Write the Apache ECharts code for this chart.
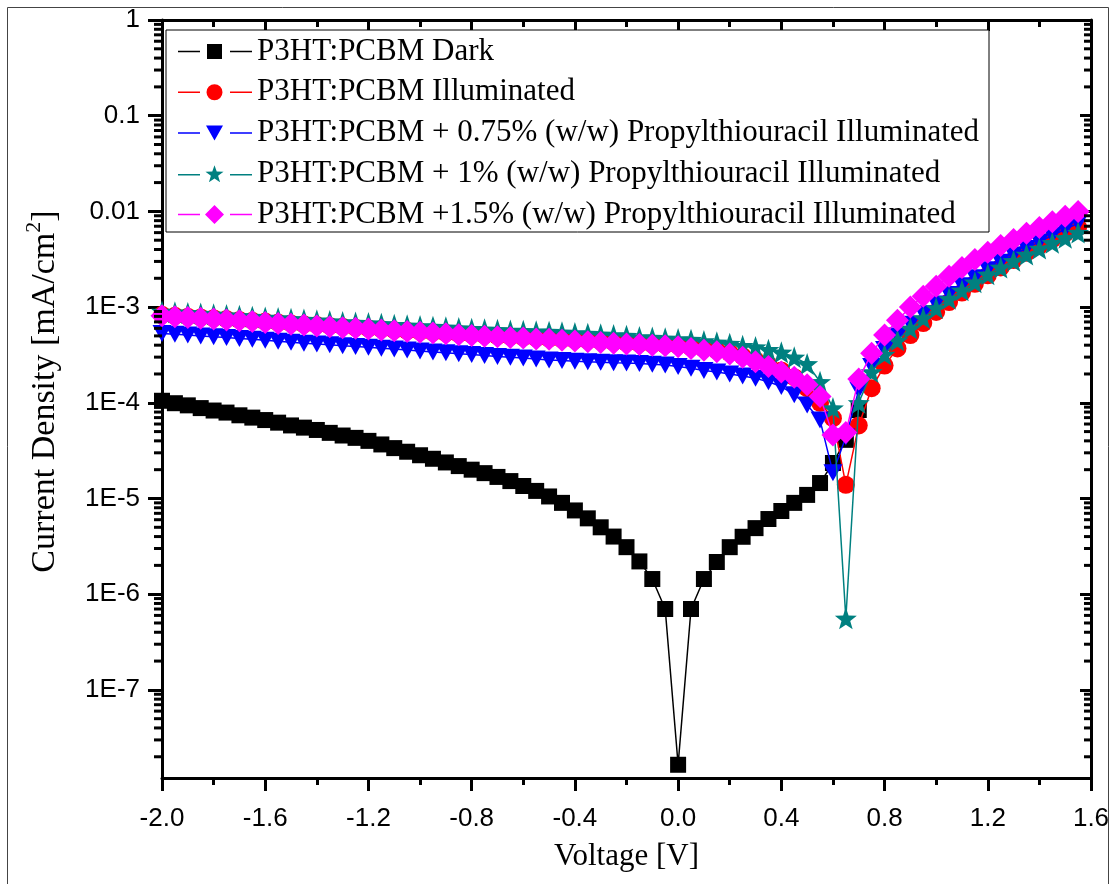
<!DOCTYPE html>
<html>
<head>
<meta charset="utf-8">
<script src="https://cdn.jsdelivr.net/npm/echarts@6/dist/echarts.min.js"></script>
<style>
  html, body { margin: 0; padding: 0; background: #fff; }
  #chart { width: 1117px; height: 884px; }
</style>
</head>
<body>
<div id="chart"></div>
<script>
// Bias voltage grid (V)
const voltage = [-2.0,-1.95,-1.9,-1.85,-1.8,-1.75,-1.7,-1.65,-1.6,-1.55,-1.5,-1.45,-1.4,-1.35,-1.3,-1.25,-1.2,-1.15,-1.1,-1.05,
  -1.0,-0.95,-0.9,-0.85,-0.8,-0.75,-0.7,-0.65,-0.6,-0.55,-0.5,-0.45,-0.4,-0.35,-0.3,-0.25,-0.2,-0.15,-0.1,-0.05,
  0,0.05,0.1,0.15,0.2,0.25,0.3,0.35,0.4,0.45,0.5,0.55,0.6,0.65,0.7,0.75,0.8,0.85,0.9,0.95,
  1.0,1.05,1.1,1.15,1.2,1.25,1.3,1.35,1.4,1.45,1.5,1.55];

// Current density (mA/cm^2), one value per voltage step
const darkJ = [1.05e-4,9.9e-5,9.4e-5,8.8e-5,8.3e-5,7.9e-5,7.4e-5,7.0e-5,6.6e-5,
  6.2e-5,5.8e-5,5.5e-5,5.2e-5,4.85e-5,4.55e-5,4.3e-5,4.0e-5,
  3.67e-5,3.36e-5,3.08e-5,2.83e-5,2.6e-5,2.38e-5,2.18e-5,2.0e-5,
  1.84e-5,1.68e-5,1.52e-5,1.35e-5,1.2e-5,1.05e-5,9.0e-6,7.5e-6,
  6.2e-6,5.0e-6,4.0e-6,3.1e-6,2.2e-6,1.44e-6,7.0e-7,
  1.65e-8,
  7.0e-7,1.44e-6,2.17e-6,3.1e-6,3.98e-6,4.9e-6,6.1e-6,7.4e-6,9.0e-6,1.09e-5,1.45e-5,2.35e-5,4.1e-5,8.4e-5];

const illumJ = [8.3e-4,8.1e-4,7.95e-4,7.8e-4,7.65e-4,7.5e-4,7.35e-4,7.2e-4,7.05e-4,6.9e-4,
  6.75e-4,6.6e-4,6.5e-4,6.35e-4,6.25e-4,6.1e-4,6.0e-4,5.9e-4,5.75e-4,5.65e-4,
  5.55e-4,5.45e-4,5.35e-4,5.25e-4,5.15e-4,5.05e-4,4.98e-4,4.9e-4,4.83e-4,4.75e-4,4.68e-4,
  4.6e-4,4.52e-4,4.45e-4,4.37e-4,4.3e-4,4.22e-4,4.15e-4,4.08e-4,4.02e-4,
  3.95e-4,
  3.8e-4,3.65e-4,3.5e-4,3.32e-4,3.08e-4,2.8e-4,2.5e-4,2.18e-4,1.85e-4,
  1.42e-4,1.0e-4,6.9e-5,1.39e-5,
  5.8e-5,1.42e-4,2.45e-4,3.7e-4,5.1e-4,6.8e-4,8.9e-4,1.13e-3,1.42e-3,1.75e-3,
  2.15e-3,2.6e-3,3.1e-3,3.7e-3,4.35e-3,5.1e-3,5.9e-3,6.8e-3];

const ptu075J = [5.3e-4,5.2e-4,5.1e-4,5.0e-4,4.9e-4,4.8e-4,4.7e-4,4.6e-4,4.5e-4,4.4e-4,
  4.3e-4,4.2e-4,4.12e-4,4.03e-4,3.95e-4,3.87e-4,3.8e-4,3.72e-4,3.64e-4,3.56e-4,
  3.48e-4,3.4e-4,3.33e-4,3.26e-4,3.19e-4,3.12e-4,3.05e-4,2.99e-4,2.93e-4,2.87e-4,2.8e-4,
  2.76e-4,2.72e-4,2.68e-4,2.65e-4,2.62e-4,2.6e-4,2.57e-4,2.53e-4,2.48e-4,
  2.4e-4,
  2.29e-4,2.18e-4,2.1e-4,2.0e-4,1.9e-4,1.8e-4,1.66e-4,1.48e-4,1.21e-4,9.5e-5,6.6e-5,1.86e-5,4.4e-5,
  1.36e-4,2.4e-4,3.6e-4,5.0e-4,6.6e-4,8.5e-4,1.08e-3,1.35e-3,1.67e-3,2.03e-3,
  2.45e-3,2.95e-3,3.5e-3,4.1e-3,4.8e-3,5.6e-3,6.5e-3,7.5e-3];

const ptu1J = [9.0e-4,8.85e-4,8.7e-4,8.55e-4,8.4e-4,8.25e-4,8.1e-4,7.95e-4,7.8e-4,7.7e-4,
  7.55e-4,7.4e-4,7.3e-4,7.15e-4,7.0e-4,6.9e-4,6.8e-4,6.7e-4,6.55e-4,6.45e-4,
  6.35e-4,6.25e-4,6.15e-4,6.05e-4,5.95e-4,5.85e-4,5.8e-4,5.7e-4,5.65e-4,5.6e-4,5.54e-4,
  5.46e-4,5.37e-4,5.28e-4,5.2e-4,5.12e-4,5.03e-4,4.88e-4,4.8e-4,4.72e-4,
  4.65e-4,
  4.57e-4,4.43e-4,4.29e-4,4.15e-4,3.95e-4,3.83e-4,3.59e-4,3.37e-4,2.99e-4,2.55e-4,1.66e-4,8.8e-5,5.6e-7,
  1.0e-4,2.1e-4,3.2e-4,4.5e-4,6.0e-4,7.7e-4,9.8e-4,1.22e-3,1.5e-3,1.82e-3,
  2.2e-3,2.6e-3,3.05e-3,3.55e-3,4.1e-3,4.7e-3,5.3e-3,6.0e-3];

const ptu15J = [8.1e-4,7.95e-4,7.8e-4,7.65e-4,7.5e-4,7.35e-4,7.2e-4,7.05e-4,6.9e-4,6.75e-4,
  6.6e-4,6.5e-4,6.35e-4,6.25e-4,6.1e-4,6.0e-4,5.9e-4,5.75e-4,5.65e-4,5.55e-4,
  5.45e-4,5.35e-4,5.25e-4,5.15e-4,5.05e-4,4.95e-4,4.9e-4,4.8e-4,4.75e-4,4.65e-4,4.6e-4,
  4.5e-4,4.42e-4,4.35e-4,4.27e-4,4.2e-4,4.12e-4,4.06e-4,4.0e-4,3.95e-4,
  3.86e-4,
  3.7e-4,3.55e-4,3.42e-4,3.24e-4,2.99e-4,2.69e-4,2.39e-4,2.1e-4,1.85e-4,1.54e-4,1.16e-4,4.6e-5,4.9e-5,
  1.77e-4,3.3e-4,5.1e-4,7.3e-4,1.0e-3,1.3e-3,1.65e-3,2.1e-3,2.6e-3,3.15e-3,
  3.75e-3,4.4e-3,5.1e-3,5.9e-3,6.8e-3,7.8e-3,8.9e-3,1.0e-2];

const seriesNames = [
  'P3HT:PCBM Dark',
  'P3HT:PCBM Illuminated',
  'P3HT:PCBM + 0.75% (w/w) Propylthiouracil Illuminated',
  'P3HT:PCBM + 1% (w/w) Propylthiouracil Illuminated',
  'P3HT:PCBM +1.5% (w/w) Propylthiouracil Illuminated'
];

// Axis ranges and ticks
const xMin = -2.0, xMax = 1.6, xStep = 0.4;
const yMin = 1.2e-8, yMax = 1;
const yMajorTicks = [1e-7, 1e-6, 1e-5, 1e-4, 1e-3, 0.01, 0.1, 1];
const yMinorTicks = [
  2e-8, 3e-8, 4e-8, 5e-8, 6e-8, 7e-8, 8e-8, 9e-8,
  2e-7, 3e-7, 4e-7, 5e-7, 6e-7, 7e-7, 8e-7, 9e-7,
  2e-6, 3e-6, 4e-6, 5e-6, 6e-6, 7e-6, 8e-6, 9e-6,
  2e-5, 3e-5, 4e-5, 5e-5, 6e-5, 7e-5, 8e-5, 9e-5,
  2e-4, 3e-4, 4e-4, 5e-4, 6e-4, 7e-4, 8e-4, 9e-4,
  0.002, 0.003, 0.004, 0.005, 0.006, 0.007, 0.008, 0.009,
  0.02, 0.03, 0.04, 0.05, 0.06, 0.07, 0.08, 0.09,
  0.2, 0.3, 0.4, 0.5, 0.6, 0.7, 0.8, 0.9
];

const STAR = 'path://M0,-10L2.35,-3.24L9.51,-3.09L3.8,1.24L5.88,8.09L0,4.4L-5.88,8.09L-3.8,1.24L-9.51,-3.09L-2.35,-3.24Z';

// Legend icons: line - gap - marker - gap - line, in a 74 x 19 box
const LEG_LINES = 'M0,8.75H22V10.25H0Z M52,8.75H74V10.25H52Z ';
const legendIcons = [
  'path://' + LEG_LINES + 'M29,2H44V17H29Z',
  'path://' + LEG_LINES + 'M44.5,9.5A8,8 0 1,1 28.5,9.5A8,8 0 1,1 44.5,9.5Z',
  'path://' + LEG_LINES + 'M28,2H45L36.5,17Z',
  'path://' + LEG_LINES + 'M36.5,0L38.73,6.43L45.54,6.56L40.11,10.67L42.08,17.19L36.5,13.3L30.92,17.19L32.89,10.67L27.46,6.56L34.27,6.43Z',
  'path://' + LEG_LINES + 'M36.5,0L46,9.5L36.5,19L27,9.5Z'
];

function pairs(values) {
  return values.map((j, i) => [voltage[i], j]);
}

function yLabel(v) {
  const l = Math.log10(v);
  const e = Math.round(l);
  if (Math.abs(l - e) > 0.01) return '';
  if (e >= -2) return String(Math.pow(10, e));
  return '1E' + e;
}

const black = '#000';
const lineW = 3;

function xAxisDef(pos) {
  const bottom = pos === 'bottom';
  return {
    type: 'value', position: pos, min: xMin, max: xMax, interval: xStep,
    axisLine: { show: true, onZero: false, lineStyle: { color: black, width: lineW } },
    axisTick: { show: true, inside: !bottom, length: bottom ? 13 : 11, lineStyle: { color: black, width: lineW } },
    minorTick: { show: true, splitNumber: 2, length: 7, lineStyle: { color: black, width: lineW } },
    splitLine: { show: false }, minorSplitLine: { show: false },
    axisLabel: bottom ? {
      color: black, fontFamily: 'Liberation Sans', fontSize: 26, margin: 28,
      formatter: v => v.toFixed(1)
    } : { show: false },
    name: bottom ? 'Voltage [V]' : '',
    nameLocation: 'middle', nameGap: 63,
    nameTextStyle: { fontFamily: 'Liberation Serif', fontSize: 31, color: black }
  };
}

function yAxisDef(pos) {
  const left = pos === 'left';
  const def = {
    type: 'log', logBase: 10, position: pos, min: yMin, max: yMax,
    axisLine: { show: true, onZero: false, lineStyle: { color: black, width: lineW } },
    axisTick: { show: true, inside: !left, customValues: yMajorTicks,
      length: left ? 14 : 11, lineStyle: { color: black, width: lineW } },
    minorTick: { show: false },
    splitLine: { show: false },
    axisLabel: left ? {
      customValues: yMajorTicks, color: black, fontFamily: 'Liberation Sans', fontSize: 26, margin: 22,
      formatter: yLabel
    } : { show: false }
  };
  if (left) {
    def.name = '{a|Current Density [mA/cm}{s|2}{a|]}';
    def.nameLocation = 'middle';
    def.nameGap = 95;
    def.nameRotate = 90;
    def.nameTextStyle = {
      padding: [0, 0, 0, 15],
      rich: {
        a: { fontFamily: 'Liberation Serif', fontSize: 34, color: black, lineHeight: 44 },
        s: { fontFamily: 'Liberation Serif', fontSize: 22, color: black, lineHeight: 24, verticalAlign: 'top' }
      }
    };
  }
  return def;
}

const styles = [
  { color: '#000000', symbol: 'rect', size: 16, rotate: 0 },
  { color: '#FF0000', symbol: 'circle', size: 18, rotate: 0 },
  { color: '#0000FF', symbol: 'triangle', size: [19, 17], rotate: 180 },
  { color: '#008080', symbol: STAR, size: 22, rotate: 0 },
  { color: '#FF00FF', symbol: 'diamond', size: 23, rotate: 0 }
];
const values = [darkJ, illumJ, ptu075J, ptu1J, ptu15J];

const series = values.map((vals, i) => ({
  name: seriesNames[i],
  type: 'line',
  xAxisIndex: 0, yAxisIndex: 0,
  data: pairs(vals),
  symbol: styles[i].symbol,
  symbolSize: styles[i].size,
  symbolRotate: styles[i].rotate,
  showSymbol: true, showAllSymbol: true,
  itemStyle: { color: styles[i].color, borderWidth: 0 },
  lineStyle: { color: styles[i].color, width: 1.5 },
  emphasis: { disabled: true },
  animation: false,
  z: 2 + i
}));

const chart = echarts.init(document.getElementById('chart'), null, { renderer: 'canvas' });
chart.setOption({
  animation: false,
  backgroundColor: '#fff',
  grid: { left: 162, right: 26, top: 20, bottom: 106, outerBoundsMode: 'none' },
  xAxis: [xAxisDef('bottom'), xAxisDef('top')],
  yAxis: [yAxisDef('left'), yAxisDef('right')],
  legend: {
    orient: 'vertical', left: 166, top: 30,
    padding: [6, 10, 2, 12],
    itemWidth: 74, itemHeight: 19, itemGap: 9.75,
    borderColor: '#000', borderWidth: 1, backgroundColor: '#fff',
    selectedMode: false,
    textStyle: { fontFamily: 'Liberation Serif', fontSize: 31, color: black, lineHeight: 31 },
    data: seriesNames.map((n, i) => ({ name: n, icon: legendIcons[i] }))
  },
  series: series
});

// Outer frame and the minor decade ticks (placed through the chart's log scale):
// outward on the left axis, inward on the right axis.
const marks = [{
  type: 'rect', silent: true, z: 100,
  shape: { x: 7.5, y: 7.5, width: 1101, height: 900 },
  style: { fill: 'none', stroke: '#444', lineWidth: 1 }
}];
yMinorTicks.forEach(v => {
  const l = chart.convertToPixel({ seriesIndex: 0 }, [xMin, v]);
  const r = chart.convertToPixel({ seriesIndex: 0 }, [xMax, v]);
  if (!l || !r) return;
  marks.push({
    type: 'line', silent: true, z: 50,
    shape: { x1: l[0] - 8, y1: l[1], x2: l[0], y2: l[1] },
    style: { stroke: black, lineWidth: lineW }
  }, {
    type: 'line', silent: true, z: 50,
    shape: { x1: r[0] - 7, y1: r[1], x2: r[0], y2: r[1] },
    style: { stroke: black, lineWidth: lineW }
  });
});
chart.setOption({ graphic: marks });
</script>
</body>
</html>
